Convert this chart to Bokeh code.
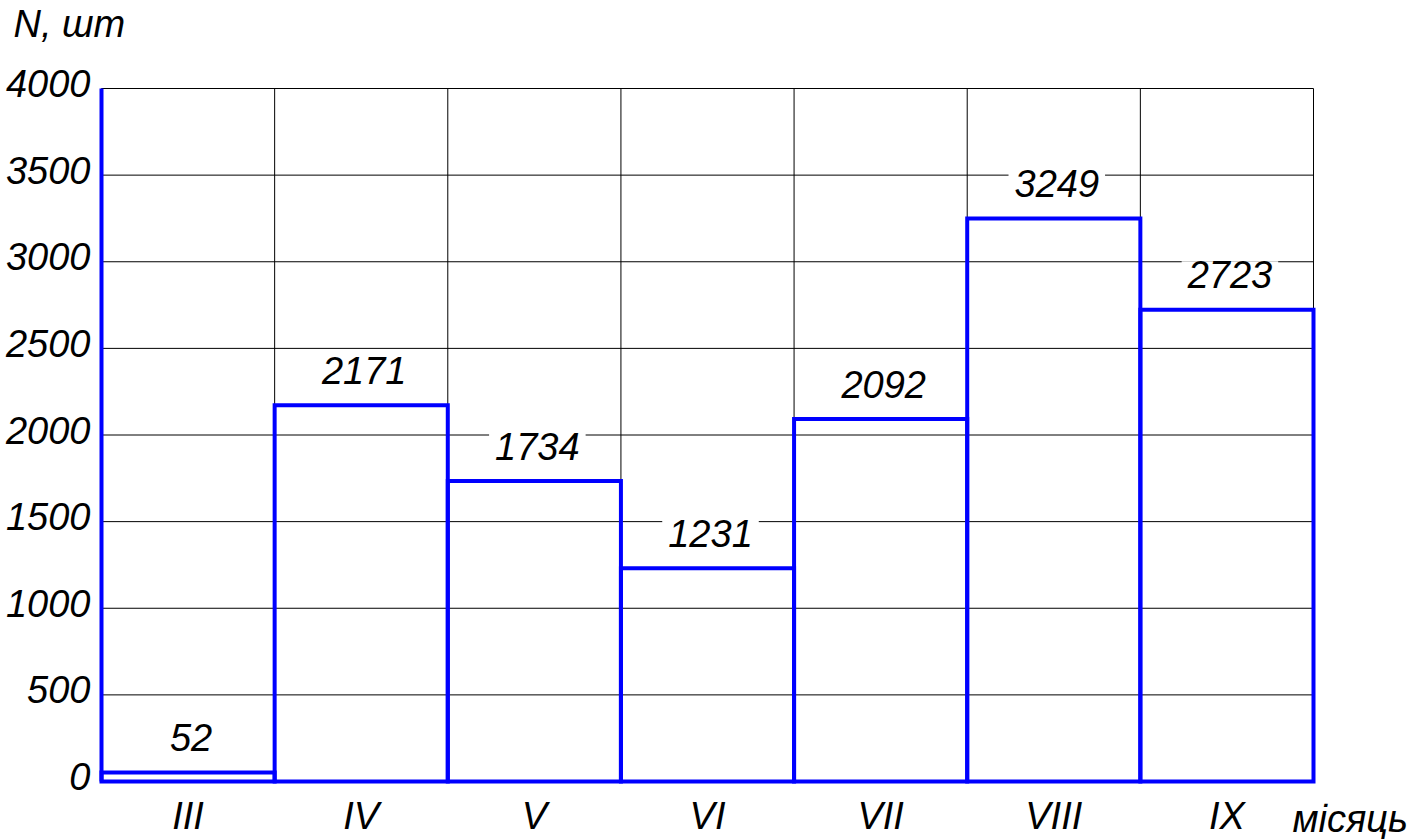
from bokeh.plotting import figure
from bokeh.models import Range1d, ColumnDataSource
from bokeh.core.properties import value
from bokeh.transform import dodge
from bokeh.embed import file_html
from bokeh.resources import INLINE

# ---- data ----
months = ["III", "IV", "V", "VI", "VII", "VIII", "IX"]
counts = [52, 2171, 1734, 1231, 2092, 3249, 2723]
y_ticks = [0, 500, 1000, 1500, 2000, 2500, 3000, 3500, 4000]
y_title = "N, шт"
x_title = "місяць"

FONT = "Liberation Sans, Arimo, sans-serif"
BLUE = "#0000ff"
FS = "38px"

# ---- layout (pixels) ----
W, H = 1409, 839
X0_PX, Y0_PX = 101, 781           # canvas position of data point (0, 0)
n = len(months)
PX_X = 1212 / n                    # pixels per category
PX_Y = 693 / y_ticks[-1]           # pixels per unit
FIX = 15                           # measured baseline correction of the svg text (px)


def dx(px):
    return px / PX_X


def dy(px):
    return px / PX_Y


p = figure(width=W, height=H,
           x_range=Range1d(-dx(X0_PX), dx(W - X0_PX)),
           y_range=Range1d(-dy(H - Y0_PX), dy(Y0_PX)),
           x_axis_location=None, y_axis_location=None,
           output_backend="svg", toolbar_location=None,
           min_border=0)
p.outline_line_color = None
p.grid.visible = False
p.background_fill_color = "white"
p.border_fill_color = "white"

bars = ColumnDataSource(dict(
    left=list(range(n)),
    right=[i + 1 for i in range(n)],
    top=counts,
    bottom=[0] * n,
    x=[i + 0.5 for i in range(n)],
    zero=[0] * n,
    label=[str(c) for c in counts],
    month=months,
))
ticks = ColumnDataSource(dict(
    y=y_ticks,
    x=[0] * len(y_ticks),
    label=[str(t) for t in y_ticks],
))

# grid lines
vx = list(range(n + 1))
p.segment(x0=vx, y0=[0] * len(vx), x1=vx, y1=[y_ticks[-1]] * len(vx),
          line_color="black", line_width=1)
p.segment(x0=[0] * len(y_ticks), y0=y_ticks, x1=[n] * len(y_ticks), y1=y_ticks,
          line_color="black", line_width=1)

# blue vertical axis line
p.segment(x0=[0], y0=[0], x1=[0], y1=[y_ticks[-1]], line_color=BLUE, line_width=4)

# bars as outlines
p.quad(left="left", right="right", top="top", bottom="bottom", source=bars,
       fill_color=None, line_color=BLUE, line_width=4, line_join="miter")

common = dict(text_font=value(FONT), text_font_style="italic", text_font_size=FS,
              text_color="black", text_baseline="alphabetic")

# value labels above bars, white background breaking the grid
p.text(x=dodge("x", dx(3), range=p.x_range), y=dodge("top", dy(20 + FIX), range=p.y_range),
       text="label", source=bars, text_align="center",
       background_fill_color="white",
       padding=dict(left=6, right=6, top=0, bottom=0), **common)

# y tick labels
p.text(x=dodge("x", -dx(11), range=p.x_range), y=dodge("y", -dy(10 - FIX), range=p.y_range),
       text="label", source=ticks, text_align="right", **common)

# month labels
p.text(x="x", y=dodge("zero", -dy(49 - FIX), range=p.y_range), text="month", source=bars,
       text_align="center", **common)

# axis titles
p.text(x=[-dx(X0_PX - 13)], y=[dy(Y0_PX - 38 + FIX)], text=[y_title],
       text_align="left", **common)
p.text(x=[n - dx(1313 - 1292)], y=[-dy(833 - Y0_PX - FIX)], text=[x_title],
       text_align="left", **common)

open("out.html", "w").write(file_html(p, INLINE))
